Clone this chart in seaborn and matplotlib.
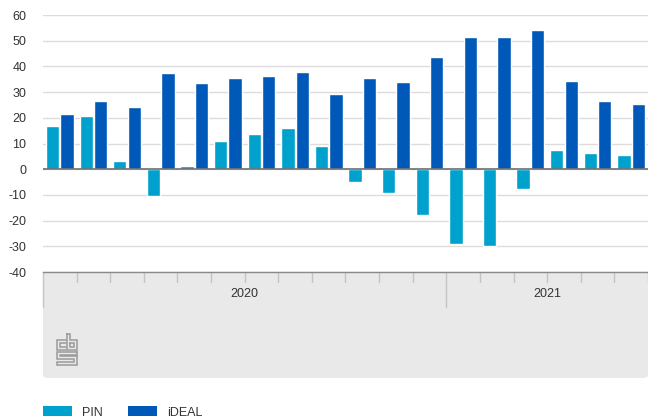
import matplotlib
matplotlib.use("Agg")
import matplotlib.pyplot as plt
import matplotlib.transforms as mtransforms
from matplotlib.patches import FancyBboxPatch, Patch
from matplotlib.lines import Line2D
import seaborn as sns
import pandas as pd

# ---- data ----
months = ["2020-01", "2020-02", "2020-03", "2020-04", "2020-05", "2020-06",
          "2020-07", "2020-08", "2020-09", "2020-10", "2020-11", "2020-12",
          "2021-01", "2021-02", "2021-03", "2021-04", "2021-05", "2021-06"]
pin = [17.0, 20.6, 3.1, -10.3, 1.2, 10.8, 13.7, 15.9, 9.0, -4.9, -9.4, -18.0,
       -29.2, -30.0, -7.6, 7.6, 6.4, 5.5]
ideal = [21.4, 26.7, 24.1, 37.3, 33.5, 35.5, 36.4, 38.0, 29.4, 35.5, 33.8, 43.6,
         51.5, 51.5, 54.1, 34.4, 26.6, 25.4]
series_names = ["PIN", "iDEAL"]
years = ["2020", "2021"]
year_months = [12, 6]
colors = ["#00a1cd", "#0058b8"]

df = pd.DataFrame({
    "month": months * 2,
    "value": pin + ideal,
    "series": [series_names[0]] * len(months) + [series_names[1]] * len(months),
})

sns.set_theme(style="white")
plt.rcParams["font.family"] = ["Liberation Sans", "DejaVu Sans"]

W, H = 648, 419
fig = plt.figure(figsize=(W / 100, H / 100), dpi=100)
fig.patch.set_facecolor("white")

ax_left, ax_right, ax_top, ax_bot = 43, 648, 15, 272
ax = fig.add_axes([ax_left / W, 1 - ax_bot / H, (ax_right - ax_left) / W, (ax_bot - ax_top) / H])
ax.set_zorder(1)

sns.barplot(data=df, x="month", y="value", hue="series", order=months,
            hue_order=series_names, palette=colors, width=0.86, gap=0.08,
            saturation=1, legend=False, ax=ax)
ax.axhline(0, color="#6e6e6e", linewidth=1.2, zorder=3)

ax.set_xlim(-0.5, len(months) - 0.5)
ax.set_ylim(-40, 60)
ax.set_yticks(range(-40, 61, 10))
ax.set_yticklabels([str(v) for v in range(-40, 61, 10)], fontsize=9, color="#333333")
ax.tick_params(axis="y", length=0, pad=12)
ax.set_xticks([])
ax.set_xlabel("")
ax.set_ylabel("")
ax.yaxis.grid(True, color="#dcdcdc", linewidth=1)
ax.set_axisbelow(True)
for s in ["top", "right", "left"]:
    ax.spines[s].set_visible(False)
ax.spines["bottom"].set_color("#8a8a8a")
ax.spines["bottom"].set_linewidth(1)

# ---- grey category panel ----
panel = FancyBboxPatch(((ax_left) / W, (H - 378) / H), (ax_right - ax_left) / W, (378 - 262) / H,
                       boxstyle="round,pad=0,rounding_size=0.008",
                       transform=fig.transFigure, facecolor="#e9e9e9",
                       edgecolor="none", zorder=-1)
fig.patches.append(panel)

trans = mtransforms.blended_transform_factory(ax.transData, ax.transAxes)
plot_h = ax_bot - ax_top
year_starts = [0]
for n in year_months:
    year_starts.append(year_starts[-1] + n)
for k in range(len(months) + 1):
    x = k - 0.5
    long = k in year_starts[:-1]
    L = 35 if long else 10
    ax.plot([x, x], [0, -L / plot_h], transform=trans, color="#c4c4c4",
            linewidth=1, clip_on=False, zorder=2)
for i, y in enumerate(years):
    c = (year_starts[i] + year_starts[i + 1]) / 2 - 0.5
    ax.text(c, -22 / plot_h, y, transform=trans, ha="center", va="center",
            fontsize=9, color="#333333")

# ---- CBS logo (approximate) ----
def fl(pts, lw=1.1):
    xs = [p[0] / W for p in pts]
    ys = [1 - p[1] / H for p in pts]
    fig.add_artist(Line2D(xs, ys, transform=fig.transFigure, color="#9a9a9a",
                          linewidth=lw, solid_joinstyle="miter"))

fl([(66, 340), (57, 340), (57, 350), (66, 350)])
fl([(66, 343), (60, 343), (60, 347), (66, 347)])
fl([(67, 334), (67, 350), (77, 350), (77, 340), (70, 340), (70, 334), (67, 334)])
fl([(70, 343), (74, 343), (74, 347), (70, 347), (70, 343)])
fl([(77, 352), (57, 352), (57, 359), (74, 359), (74, 362), (57, 362), (57, 365), (77, 365),
    (77, 356), (60, 356), (60, 355), (77, 355), (77, 352)])

# ---- legend ----
handles = [Patch(facecolor=c, edgecolor="none") for c in colors]
fs = 9
fig.legend(handles, series_names, loc="lower left",
           bbox_to_anchor=(ax_left / W, 0.5 / H), ncol=2, frameon=False,
           fontsize=fs, borderpad=0, borderaxespad=0,
           handlelength=2.3, handleheight=0.9, handletextpad=0.85,
           columnspacing=2.0, labelcolor="#333333")

fig.savefig("out.png", dpi=100, facecolor="white")
